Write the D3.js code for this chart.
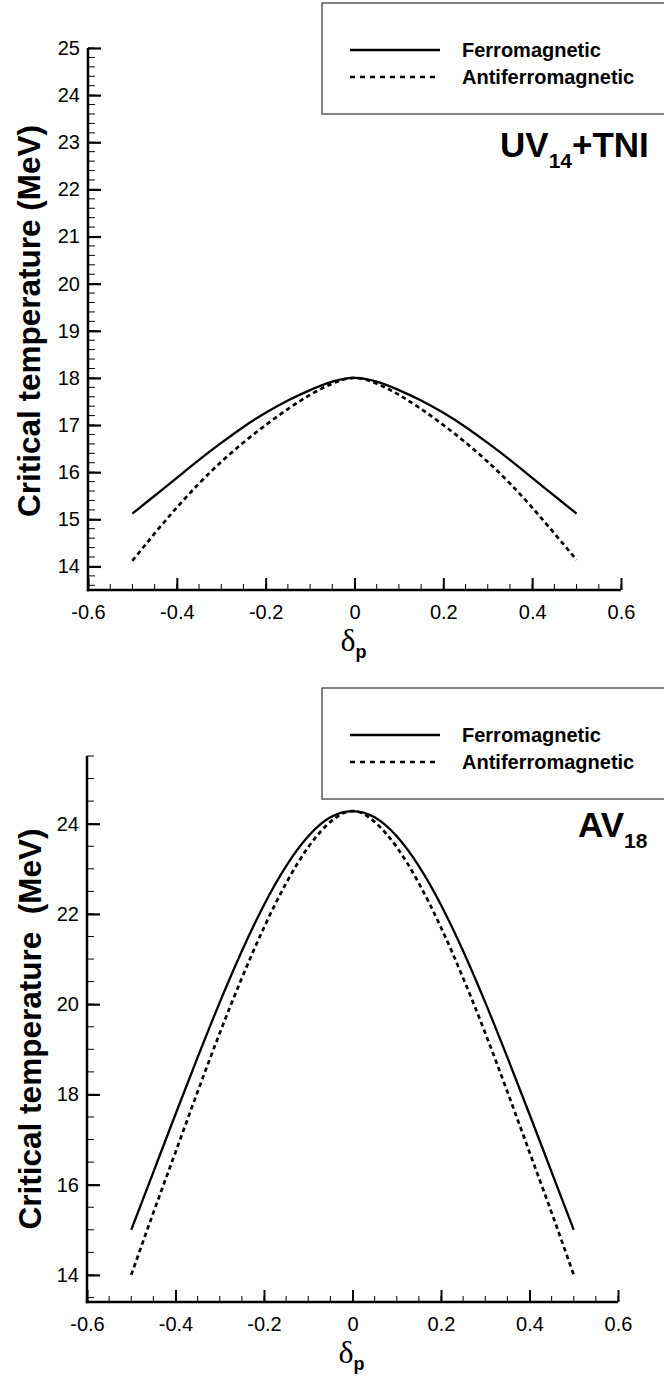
<!DOCTYPE html>
<html>
<head>
<meta charset="utf-8">
<script src="https://cdn.jsdelivr.net/npm/d3@7"></script>
<style>
  html, body { margin: 0; padding: 0; background: #fff; }
  svg { display: block; }
  text { font-family: "Liberation Sans", Arial, Helvetica, sans-serif; fill: #000; }
</style>
</head>
<body>
<svg id="chart" width="664" height="1381"></svg>
<script>
// Proton asymmetry parameter values along the curves
const delta = [-0.5, -0.45, -0.4, -0.35, -0.3, -0.25, -0.2, -0.15, -0.1, -0.05, 0,
               0.05, 0.1, 0.15, 0.2, 0.25, 0.3, 0.35, 0.4, 0.45, 0.5];

// UV14+TNI critical temperatures (MeV)
const uvFerro = [15.12, 15.50, 15.88, 16.26, 16.62, 16.96, 17.26, 17.52, 17.74, 17.92, 18.00,
                 17.92, 17.74, 17.52, 17.26, 16.96, 16.62, 16.26, 15.88, 15.50, 15.12];
const uvAnti  = [14.12, 14.70, 15.25, 15.76, 16.22, 16.63, 17.00, 17.34, 17.64, 17.88, 18.00,
                 17.88, 17.64, 17.34, 17.00, 16.63, 16.22, 15.76, 15.25, 14.70, 14.14];

// AV18 critical temperatures (MeV)
const avFerro = [15.00, 16.28, 17.56, 18.82, 20.04, 21.18, 22.20, 23.06, 23.72, 24.14, 24.28,
                 24.14, 23.72, 23.06, 22.20, 21.18, 20.04, 18.82, 17.56, 16.28, 15.00];
const avAnti  = [14.00, 15.38, 16.72, 18.06, 19.36, 20.58, 21.70, 22.68, 23.48, 24.04, 24.28,
                 24.04, 23.48, 22.68, 21.70, 20.58, 19.36, 18.06, 16.72, 15.38, 14.00];

// Axis ticks
const xTickValues = [-0.6, -0.4, -0.2, 0, 0.2, 0.4, 0.6];
const xTickLabels = ["-0.6", "-0.4", "-0.2", "0", "0.2", "0.4", "0.6"];
const uvYTicks = [14, 15, 16, 17, 18, 19, 20, 21, 22, 23, 24, 25];
const avYTicks = [14, 16, 18, 20, 22, 24];

const seriesNames = ["Ferromagnetic", "Antiferromagnetic"];

const svg = d3.select("#chart");

function drawPanel(p) {
  const g = svg.append("g");
  const x = d3.scaleLinear().domain([-0.6, 0.6]).range([p.left, p.right]);
  const y = d3.scaleLinear().domain(p.yDomain).range([p.bottom, p.top]);

  // minor ticks, pointing into the plot area
  const xMinor = d3.range(-12, 13).map(k => +(k * 0.05).toFixed(2));
  g.selectAll(".xminor").data(xMinor).join("line")
    .attr("x1", d => x(d)).attr("x2", d => x(d))
    .attr("y1", p.bottom).attr("y2", p.bottom - 6)
    .attr("stroke", "#000").attr("stroke-width", 1);
  const yMinorVals = d3.range(Math.ceil(p.yDomain[0] / p.yMinorStep - 1e-6),
                              Math.floor(p.yDomain[1] / p.yMinorStep + 1e-6) + 1)
    .map(k => +(k * p.yMinorStep).toFixed(2));
  g.selectAll(".yminor").data(yMinorVals).join("line")
    .attr("x1", p.left).attr("x2", p.left + 7)
    .attr("y1", d => y(d)).attr("y2", d => y(d))
    .attr("stroke", "#000").attr("stroke-width", 1);

  // x axis
  const xAxis = d3.axisBottom(x).tickValues(xTickValues)
    .tickFormat((d, i) => xTickLabels[i]).tickSizeInner(-12).tickSizeOuter(0).tickPadding(16);
  const xa = g.append("g").attr("transform", `translate(0,${p.bottom})`).call(xAxis);
  xa.select(".domain").remove();
  xa.selectAll(".tick line").attr("stroke", "#000").attr("stroke-width", 2);
  xa.selectAll(".tick text").style("font-size", "20px").attr("fill", "#000")
    .attr("y", 15).attr("dy", "0.71em");

  // y axis
  const yAxis = d3.axisLeft(y).tickValues(p.yTicks)
    .tickSizeInner(-13).tickSizeOuter(0).tickPadding(21);
  const ya = g.append("g").attr("transform", `translate(${p.left},0)`).call(yAxis);
  ya.select(".domain").remove();
  ya.selectAll(".tick line").attr("stroke", "#000").attr("stroke-width", 2.2);
  ya.selectAll(".tick text").style("font-size", "20px").attr("fill", "#000").attr("x", -8);

  // axis lines
  g.append("line").attr("x1", p.left).attr("x2", p.left)
    .attr("y1", p.top).attr("y2", p.bottom + 1.25)
    .attr("stroke", "#000").attr("stroke-width", 2.5);
  g.append("line").attr("x1", p.left - 1.25).attr("x2", p.right)
    .attr("y1", p.bottom).attr("y2", p.bottom)
    .attr("stroke", "#000").attr("stroke-width", 2.5);

  // curves
  const line = d3.line().x(d => x(d[0])).y(d => y(d[1])).curve(d3.curveNatural);
  g.append("path").datum(delta.map((d, i) => [d, p.ferro[i]]))
    .attr("d", line).attr("fill", "none").attr("stroke", "#000")
    .attr("stroke-width", 2.3);
  g.append("path").datum(delta.map((d, i) => [d, p.anti[i]]))
    .attr("d", line).attr("fill", "none").attr("stroke", "#000")
    .attr("stroke-width", 2.7).attr("stroke-dasharray", "4.5,3.5");

  // y axis title
  g.append("text")
    .attr("transform", `translate(${p.titleX},${p.titleY}) rotate(-90)`)
    .attr("text-anchor", "middle")
    .style("font-size", "31.5px").style("font-weight", "bold")
    .style("white-space", "pre")
    .text(p.yTitle);

  // x axis title: delta with subscript p
  const xt = g.append("text")
    .attr("x", x(0) - 14).attr("y", p.bottom + 61);
  xt.append("tspan").style("font-family", "'Liberation Serif', 'Times New Roman', serif")
    .style("font-size", "32px").text("δ");
  xt.append("tspan").attr("dy", 7).style("font-size", "18px").style("font-weight", "bold").text("p");

  // legend box
  const lg = g.append("g");
  lg.append("rect").attr("x", 322).attr("y", p.legendTop)
    .attr("width", 400).attr("height", 111)
    .attr("fill", "#fff").attr("stroke", "#333").attr("stroke-width", 1.2);
  [0, 1].forEach(i => {
    const ly = p.legendTop + 47 + i * 27;
    lg.append("line").attr("x1", 350).attr("x2", 440).attr("y1", ly).attr("y2", ly)
      .attr("stroke", "#000").attr("stroke-width", i === 0 ? 2.3 : 2.7)
      .attr("stroke-dasharray", i === 0 ? null : "5,5");
    lg.append("text").attr("x", 462).attr("y", ly + 7)
      .style("font-size", "20px").style("font-weight", "bold")
      .text(seriesNames[i]);
  });

  // model label
  const ml = g.append("text").attr("x", p.modelX).attr("y", p.modelY)
    .style("font-size", "35px").style("font-weight", "bold");
  ml.append("tspan").text(p.model[0]);
  ml.append("tspan").attr("dy", 11).style("font-size", "21px").text(p.model[1]);
  if (p.model[2]) ml.append("tspan").attr("dy", -11).text(p.model[2]);
}

drawPanel({
  left: 88, right: 621, top: 48, bottom: 590,
  yDomain: [13.5, 25], yTicks: uvYTicks, yMinorStep: 0.2,
  ferro: uvFerro, anti: uvAnti,
  yTitle: "Critical temperature (MeV)", titleX: 40, titleY: 321,
  legendTop: 3,
  model: ["UV", "14", "+TNI"], modelX: 500, modelY: 157
});

drawPanel({
  left: 87, right: 618, top: 756, bottom: 1302,
  yDomain: [13.4, 25.5], yTicks: avYTicks, yMinorStep: 0.5,
  ferro: avFerro, anti: avAnti,
  yTitle: "Critical temperature  (MeV)", titleX: 41, titleY: 1029,
  legendTop: 688,
  model: ["AV", "18"], modelX: 578, modelY: 837
});
</script>
</body>
</html>
